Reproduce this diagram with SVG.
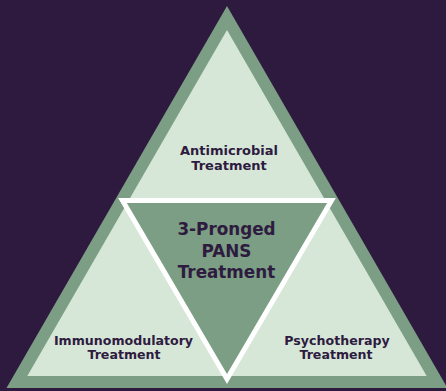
<svg xmlns="http://www.w3.org/2000/svg" width="446" height="391" viewBox="0 0 446 391">
<style>
.lbl{font-family:"DejaVu Sans","Liberation Sans",sans-serif;font-weight:bold;fill:#2e1b3f;text-anchor:middle}
.sm{font-size:13px}
.xs{font-size:12.6px}
.lg{font-size:16.8px}
</style>
<rect width="446" height="391" fill="#2e1a3e"/>
<g id="outer">
<polygon points="6.5,388 227,6 447.5,388" fill="#7b9e84"/>
<polygon points="27.3,376 227,30 426.7,376" fill="#d6e7d8"/>
</g>
<g id="connectors"></g>
<g id="center">
<polygon points="122.5,200.5 331.5,200.5 227,379" fill="#7b9e84" stroke="#ffffff" stroke-width="5" stroke-linejoin="miter" stroke-miterlimit="10"/>
<text class="lbl lg" x="226.5" y="235">3-Pronged</text>
<text class="lbl lg" x="226.5" y="256.5">PANS</text>
<text class="lbl lg" x="226.5" y="278">Treatment</text>
</g>
<g id="antimicrobial">
<text class="lbl sm" x="229" y="155">Antimicrobial</text>
<text class="lbl sm" x="229" y="170">Treatment</text>
</g>
<g id="immunomodulatory">
<text class="lbl xs" x="123.5" y="345">Immunomodulatory</text>
<text class="lbl xs" x="124" y="359">Treatment</text>
</g>
<g id="psychotherapy">
<text class="lbl xs" x="337" y="345">Psychotherapy</text>
<text class="lbl xs" x="336" y="359">Treatment</text>
</g>
</svg>
